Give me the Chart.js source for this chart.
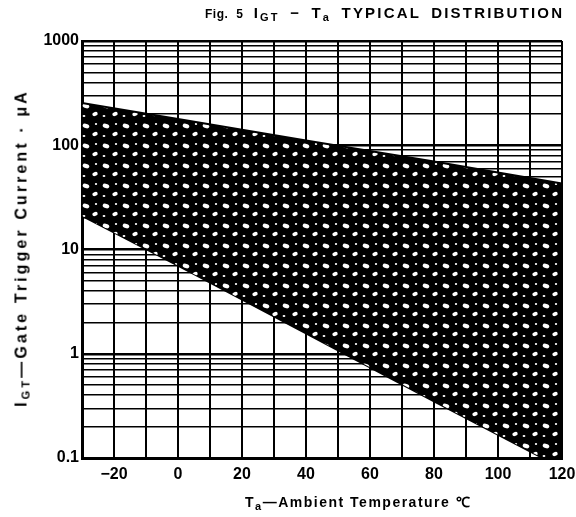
<!DOCTYPE html>
<html>
<head>
<meta charset="utf-8">
<script src="https://cdn.jsdelivr.net/npm/chart.js@4.4.1/dist/chart.umd.min.js"></script>
<style>
  body { margin: 0; background: #fff; }
  #wrap { position: relative; width: 576px; height: 517px; font-family: 'Liberation Sans', Arial, sans-serif; color: #000; }
  #title { position: absolute; left: 205px; top: 4px; font-weight: bold; font-size: 15px; letter-spacing: 2.2px; word-spacing: 4px; white-space: nowrap; }
  #title .fig { font-size: 12px; letter-spacing: 0.5px; }
  #title sub { font-size: 11px; vertical-align: -3px; }
  #ytitle { position: absolute; left: 22px; top: 248px; transform: translate(-50%, -50%) rotate(-90deg); font-weight: bold; font-size: 16px; letter-spacing: 3.1px; white-space: nowrap; }
  #ytitle sub, #xtitle sub { font-size: 11px; vertical-align: -3px; }
  #xtitle { position: absolute; left: 245px; top: 492px; font-weight: bold; font-size: 14px; letter-spacing: 1.5px; white-space: nowrap; }
</style>
</head>
<body>
<div id="wrap">
  <canvas id="chart"></canvas>
  <div id="title"><span class="fig">Fig. 5</span> I<sub>GT</sub> − T<sub>a</sub> TYPICAL DISTRIBUTION</div>
  <div id="ytitle">I<sub>GT</sub>—Gate Trigger Current · μA</div>
  <div id="xtitle">T<sub>a</sub>—Ambient Temperature ℃</div>
</div>
<script>
// --- Datos ---
const temps = [-30, 0, 40, 80, 120];          // Ta (°C)
const upperIgt = [254, 179, 111, 70, 43];     // límite superior (µA)
const lowerIgt = [21, 7.0, 1.57, 0.35, 0.08]; // límite inferior (µA)

// Rejilla logarítmica
const decades = [0.1, 1, 10, 100];
const mantissas = [1, 2, 3, 4, 5, 6, 7, 8, 9];
const yLabels = [0.1, 1, 10, 100, 1000];

let yTicks = [];
decades.forEach(d => mantissas.forEach(m => yTicks.push(+(d * m).toPrecision(3))));
yTicks.push(1000);

// Relleno tipo trama (negro con manchas blancas)
function makePattern() {
    const c = document.createElement('canvas');
    c.width = 20; c.height = 20;
    const g = c.getContext('2d');
    g.fillStyle = '#000';
    g.fillRect(0, 0, 20, 20);
    g.fillStyle = '#fff';
    g.beginPath(); g.ellipse(6, 6, 3.4, 2.2, 0.3, 0, Math.PI * 2); g.fill();
    g.beginPath(); g.ellipse(15, 14, 2.8, 2.0, -0.4, 0, Math.PI * 2); g.fill();
    g.beginPath(); g.ellipse(4, 16, 1.4, 1.0, 0, 0, Math.PI * 2); g.fill();
    g.beginPath(); g.ellipse(16, 4, 1.2, 0.9, 0, 0, Math.PI * 2); g.fill();
    return g.createPattern(c, 'repeat');
}

const toPts = arr => temps.map((t, i) => ({ x: t, y: arr[i] }));

Chart.defaults.font.family = "'Liberation Sans', Arial, sans-serif";
Chart.defaults.color = '#000';

new Chart(document.getElementById('chart'), {
    type: 'line',
    data: {
        datasets: [{
            data: toPts(upperIgt),
            borderColor: '#000',
            borderWidth: 2,
            backgroundColor: makePattern(),
            fill: '+1',
            pointRadius: 0,
            tension: 0
        }, {
            data: toPts(lowerIgt),
            borderColor: '#000',
            borderWidth: 2,
            fill: false,
            pointRadius: 0,
            tension: 0
        }]
    },
    options: {
        responsive: true,
        maintainAspectRatio: false,
        animation: false,
        layout: { padding: { left: 0, top: 41, right: 14, bottom: 0 } },
        plugins: { legend: { display: false }, tooltip: { enabled: false } },
        scales: {
            x: {
                type: 'linear',
                min: -30, max: 120,
                afterFit: s => { s.height = 59; s.paddingRight = 0; s.paddingLeft = 0; },
                border: { display: true, color: '#000', width: 3 },
                grid: { color: '#000', lineWidth: 2, drawTicks: false },
                ticks: {
                    stepSize: 10, autoSkip: false, maxRotation: 0, padding: 7,
                    font: { size: 16, weight: 'bold' },
                    callback: v => v % 20 === 0 ? (v < 0 ? '−' + Math.abs(v) : String(v)) : ''
                }
            },
            y: {
                type: 'logarithmic',
                min: 0.1, max: 1000,
                afterFit: s => { s.width = 82; s.paddingTop = 0; s.paddingBottom = 0; },
                afterBuildTicks: s => { s.ticks = yTicks.map(v => ({ value: v })); },
                border: { display: true, color: '#000', width: 3 },
                grid: {
                    color: '#000', drawTicks: false,
                    lineWidth: ctx => (ctx.tick && yLabels.includes(ctx.tick.value)) ? 2.5 : 1.5
                },
                ticks: {
                    autoSkip: false, padding: 3,
                    font: { size: 16, weight: 'bold' },
                    callback: v => yLabels.includes(v) ? String(v) : ''
                }
            }
        }
    }
});
</script>
</body>
</html>
